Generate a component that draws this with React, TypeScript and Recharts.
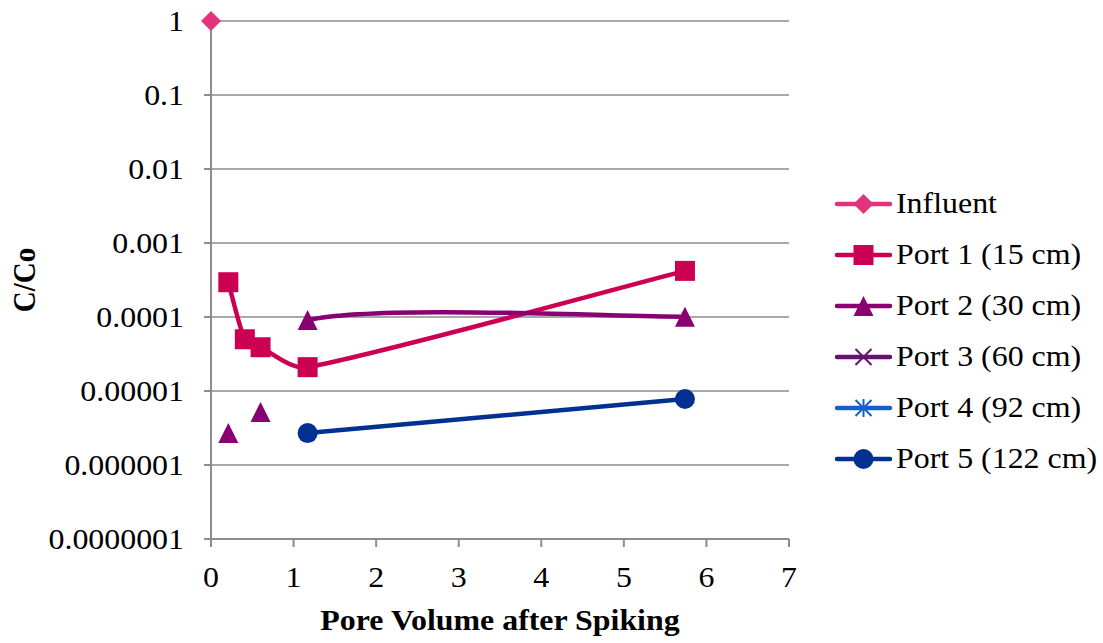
import React from 'react';
import { LineChart, Line, XAxis, YAxis, CartesianGrid, Legend } from 'recharts';

type Pt = { pv: number; c: number };

// pore volumes on the x axis, C/Co on a log axis
const pvTicks = [0, 1, 2, 3, 4, 5, 6, 7];
const ratioTicks = [1e-7, 1e-6, 1e-5, 1e-4, 1e-3, 1e-2, 1e-1, 1];
const ratioLabels = ['0.0000001', '0.000001', '0.00001', '0.0001', '0.001', '0.01', '0.1', '1'];

const influent: Pt[] = [{ pv: 0, c: 1 }];

const port1: Pt[] = [
  { pv: 0.21, c: 2.95e-4 },
  { pv: 0.41, c: 5.0e-5 },
  { pv: 0.6, c: 3.9e-5 },
  { pv: 1.17, c: 2.1e-5 },
  { pv: 5.74, c: 4.2e-4 },
];

const port2: Pt[] = [
  { pv: 0.21, c: 2.7e-6 },
  { pv: 0.6, c: 5.2e-6 },
  { pv: 1.17, c: 9.1e-5 },
  { pv: 5.74, c: 1.01e-4 },
];
// the first two port 2 samples are not joined to the next one
const port2Unjoined = [0, 1];

const port3: Pt[] = [];
const port4: Pt[] = [];

const port5: Pt[] = [
  { pv: 1.17, c: 2.7e-6 },
  { pv: 5.74, c: 7.8e-6 },
];

type Shape = 'diamond' | 'square' | 'triangle' | 'x' | 'star' | 'circle';

// Bezier smoothing; control arms shrink next to short segments.
// Segments listed in `skip` are left out but still shape the tangents.
const makeSmoothCurve = (skip: number[] = []) => (context: any) => {
  let pts: number[][] = [];
  return {
    areaStart() {},
    areaEnd() {},
    lineStart() {
      pts = [];
    },
    point(x: number, y: number) {
      pts.push([+x, +y]);
    },
    lineEnd() {
      const n = pts.length;
      if (!n) return;
      context.moveTo(pts[0][0], pts[0][1]);
      for (let i = 0; i < n - 1; i++) {
        const p0 = pts[Math.max(i - 1, 0)];
        const p1 = pts[i];
        const p2 = pts[i + 1];
        const p3 = pts[Math.min(i + 2, n - 1)];
        if (skip.includes(i)) {
          context.moveTo(p2[0], p2[1]);
          continue;
        }
        const d01 = Math.hypot(p1[0] - p0[0], p1[1] - p0[1]);
        const d12 = Math.hypot(p2[0] - p1[0], p2[1] - p1[1]);
        const d23 = Math.hypot(p3[0] - p2[0], p3[1] - p2[1]);
        const a = d01 + d12 > 0 ? Math.min(d12 / (d01 + d12) / 3, 1 / 6) : 0;
        const b = d12 + d23 > 0 ? Math.min(d12 / (d12 + d23) / 3, 1 / 6) : 0;
        context.bezierCurveTo(
          p1[0] + (p2[0] - p0[0]) * a,
          p1[1] + (p2[1] - p0[1]) * a,
          p2[0] - (p3[0] - p1[0]) * b,
          p2[1] - (p3[1] - p1[1]) * b,
          p2[0],
          p2[1]
        );
      }
    },
  };
};

const series: { name: string; color: string; shape: Shape; data: Pt[]; skip?: number[] }[] = [
  { name: 'Influent', color: '#E2337C', shape: 'diamond', data: influent },
  { name: 'Port 1 (15 cm)', color: '#CC0052', shape: 'square', data: port1 },
  { name: 'Port 2 (30 cm)', color: '#880072', shape: 'triangle', data: port2, skip: port2Unjoined },
  { name: 'Port 3 (60 cm)', color: '#66116F', shape: 'x', data: port3 },
  { name: 'Port 4 (92 cm)', color: '#1560C8', shape: 'star', data: port4 },
  { name: 'Port 5 (122 cm)', color: '#003191', shape: 'circle', data: port5 },
];

const FONT = 'Liberation Serif';
const FS = 29;
const SX = 1.1; // text is drawn slightly wide
const GRID = '#8c8c8c';

const Marker = ({ shape, cx, cy, color }: { shape: Shape; cx: number; cy: number; color: string }) => {
  switch (shape) {
    case 'diamond':
      return <polygon points={`${cx},${cy - 10} ${cx + 10},${cy} ${cx},${cy + 10} ${cx - 10},${cy}`} fill={color} />;
    case 'square':
      return <rect x={cx - 10} y={cy - 10} width={20} height={20} fill={color} />;
    case 'triangle':
      return <polygon points={`${cx},${cy - 10} ${cx + 10},${cy + 10} ${cx - 10},${cy + 10}`} fill={color} />;
    case 'x':
      return (
        <g stroke={color} strokeWidth={2}>
          <line x1={cx - 8} y1={cy - 8} x2={cx + 8} y2={cy + 8} />
          <line x1={cx - 8} y1={cy + 8} x2={cx + 8} y2={cy - 8} />
        </g>
      );
    case 'star':
      return (
        <g stroke={color} strokeWidth={2}>
          <line x1={cx} y1={cy - 9} x2={cx} y2={cy + 9} />
          <line x1={cx - 8} y1={cy - 8} x2={cx + 8} y2={cy + 8} />
          <line x1={cx - 8} y1={cy + 8} x2={cx + 8} y2={cy - 8} />
        </g>
      );
    default:
      return <circle cx={cx} cy={cy} r={10} fill={color} />;
  }
};

const renderLegend = () => (
  <div style={{ fontFamily: FONT, fontSize: FS, color: '#000' }}>
    {series.map((s) => (
      <div key={s.name} style={{ display: 'flex', alignItems: 'center', height: 51 }}>
        <svg width={63} height={30} style={{ flex: 'none' }}>
          <line x1={4} y1={15} x2={57} y2={15} stroke={s.color} strokeWidth={4.5} strokeLinecap="round" />
          <Marker shape={s.shape} cx={30.5} cy={15} color={s.color} />
        </svg>
        <span
          style={{
            whiteSpace: 'nowrap',
            display: 'inline-block',
            transform: `scaleX(${SX})`,
            transformOrigin: 'left center',
          }}
        >
          {s.name}
        </span>
      </div>
    ))}
  </div>
);

const YTick = ({ x, y, payload }: any) => (
  <text
    transform={`translate(${x},${y}) scale(${SX},1)`}
    textAnchor="end"
    dy="0.35em"
    fontFamily={FONT}
    fontSize={FS}
    fill="#000"
  >
    {ratioLabels[ratioTicks.indexOf(payload.value)] ?? String(payload.value)}
  </text>
);

const XTick = ({ x, y, payload }: any) => (
  <text
    transform={`translate(${x},${y}) scale(${SX},1)`}
    textAnchor="middle"
    dy="0.71em"
    fontFamily={FONT}
    fontSize={FS}
    fill="#000"
  >
    {payload.value}
  </text>
);

const XTitle = ({ viewBox }: any) => (
  <text
    transform={`translate(${viewBox.x + viewBox.width / 2},630) scale(${SX},1)`}
    textAnchor="middle"
    fontFamily={FONT}
    fontSize={FS}
    fontWeight="bold"
    fill="#000"
  >
    Pore Volume after Spiking
  </text>
);

const YTitle = ({ viewBox }: any) => (
  <text
    transform={`translate(35,${viewBox.y + viewBox.height / 2}) scale(${SX},1) rotate(-90)`}
    textAnchor="middle"
    fontFamily={FONT}
    fontSize={FS}
    fontWeight="bold"
    fill="#000"
  >
    C/Co
  </text>
);

export default function App() {
  return (
    <div style={{ position: 'fixed', left: 0, top: 0, width: 1103, height: 643, background: '#fff' }}>
      <LineChart width={1103} height={643} margin={{ top: 21, right: 314, bottom: 0, left: 0 }}>
        <CartesianGrid horizontal vertical={false} stroke={GRID} strokeWidth={1.6} />
        <XAxis
          type="number"
          dataKey="pv"
          domain={[0, 7]}
          ticks={pvTicks}
          height={104}
          stroke={GRID}
          strokeWidth={2}
          tickSize={8}
          tickMargin={19}
          tick={<XTick />}
          label={{ content: XTitle, position: 'insideBottom' }}
        />
        <YAxis
          type="number"
          scale="log"
          domain={[1e-7, 1]}
          ticks={ratioTicks}
          width={211}
          stroke={GRID}
          strokeWidth={2}
          tickSize={7}
          tickMargin={20}
          tick={<YTick />}
          label={{ content: YTitle, position: 'insideLeft' }}
        />
        <Legend
          layout="vertical"
          align="center"
          verticalAlign="middle"
          content={renderLegend}
          wrapperStyle={{ left: 833, top: 178, width: 270 }}
        />
        {series.map((s) => (
          <Line
            key={s.name}
            name={s.name}
            data={s.data}
            dataKey="c"
            type={makeSmoothCurve(s.skip) as any}
            stroke={s.color}
            strokeWidth={4.5}
            isAnimationActive={false}
            dot={(p: any) =>
              p.cx == null || p.cy == null ? (
                <g key={p.key} />
              ) : (
                <g key={p.key}>
                  <Marker shape={s.shape} cx={p.cx} cy={p.cy} color={s.color} />
                </g>
              )
            }
            activeDot={false}
          />
        ))}
      </LineChart>
    </div>
  );
}
